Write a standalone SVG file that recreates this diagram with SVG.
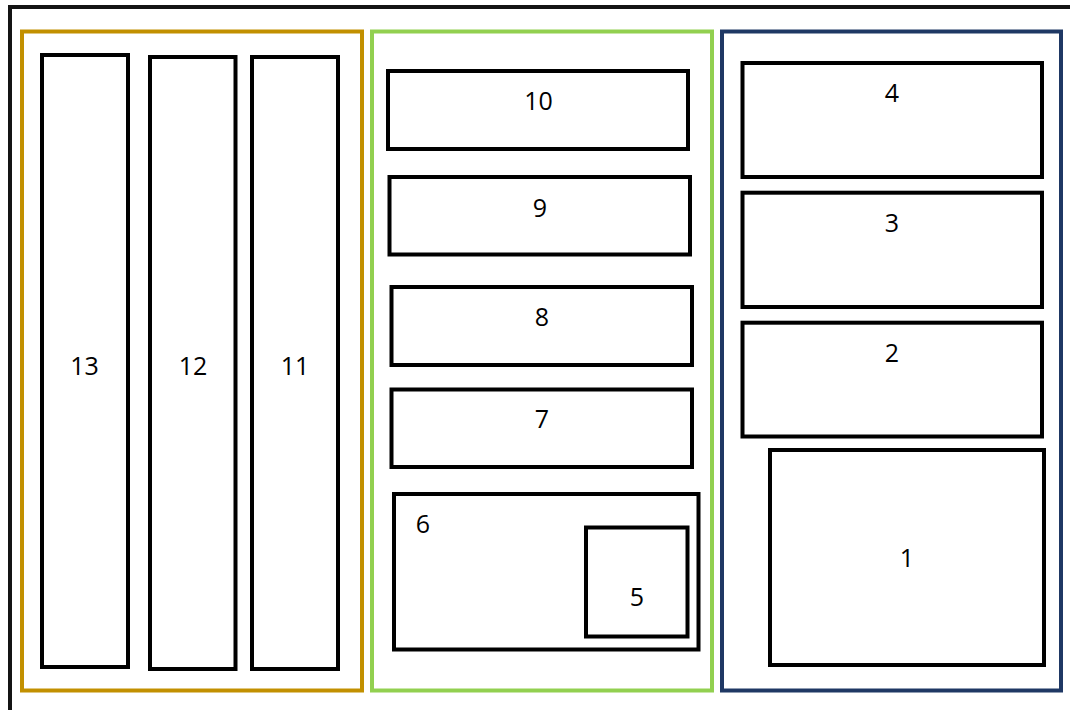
<svg xmlns="http://www.w3.org/2000/svg" width="1070" height="710" viewBox="0 0 1070 710">
<style>
.frame{fill:none;stroke:#141414;stroke-width:4}
.grp{fill:none;stroke-width:4}
.box{fill:#fff;stroke:#000;stroke-width:4}
.lbl{font-family:"Open Sans","Liberation Sans",sans-serif;font-size:25px;fill:#000;text-anchor:middle}
</style>
<rect width="1070" height="710" fill="#fff"/>
<rect class="frame" x="10" y="7" width="1100" height="760"/>
<g id="group-left"><rect class="grp" stroke="#C29000" x="22" y="31.5" width="340" height="659"/></g>
<g id="group-middle"><rect class="grp" stroke="#92D050" x="372" y="31.5" width="340" height="659"/></g>
<g id="group-right"><rect class="grp" stroke="#1F3864" x="722" y="31.5" width="339" height="659"/></g>
<g id="node-13"><rect class="box" x="42" y="55" width="86" height="612"/><text class="lbl" x="84.5" y="374.5">13</text></g>
<g id="node-12"><rect class="box" x="150" y="57" width="85.5" height="612"/><text class="lbl" x="193" y="374.5">12</text></g>
<g id="node-11"><rect class="box" x="252" y="57" width="86" height="612"/><text class="lbl" x="295" y="374.5">11</text></g>
<g id="node-10"><rect class="box" x="388" y="71" width="300" height="78"/><text class="lbl" x="538.5" y="110">10</text></g>
<g id="node-9"><rect class="box" x="389.5" y="177" width="300.5" height="77.5"/><text class="lbl" x="540" y="216.5">9</text></g>
<g id="node-8"><rect class="box" x="391.5" y="287" width="300.5" height="78"/><text class="lbl" x="542" y="325.5">8</text></g>
<g id="node-7"><rect class="box" x="391.5" y="389.5" width="300.5" height="77.5"/><text class="lbl" x="542" y="428">7</text></g>
<g id="node-6"><rect class="box" x="394" y="494" width="304.5" height="155.5"/><text class="lbl" x="423" y="532.5">6</text></g>
<g id="node-5"><rect class="box" x="586" y="527.5" width="101.5" height="109"/><text class="lbl" x="637" y="606">5</text></g>
<g id="node-4"><rect class="box" x="742.5" y="63" width="299.5" height="114"/><text class="lbl" x="892" y="101.5">4</text></g>
<g id="node-3"><rect class="box" x="742.5" y="192.7" width="299.5" height="114.3"/><text class="lbl" x="892" y="232.3">3</text></g>
<g id="node-2"><rect class="box" x="742.5" y="322.7" width="299.5" height="113.8"/><text class="lbl" x="892" y="361.7">2</text></g>
<g id="node-1"><rect class="box" x="770" y="450" width="274" height="215"/><text class="lbl" x="907" y="566.5">1</text></g>
<g id="connectors"/>
</svg>
